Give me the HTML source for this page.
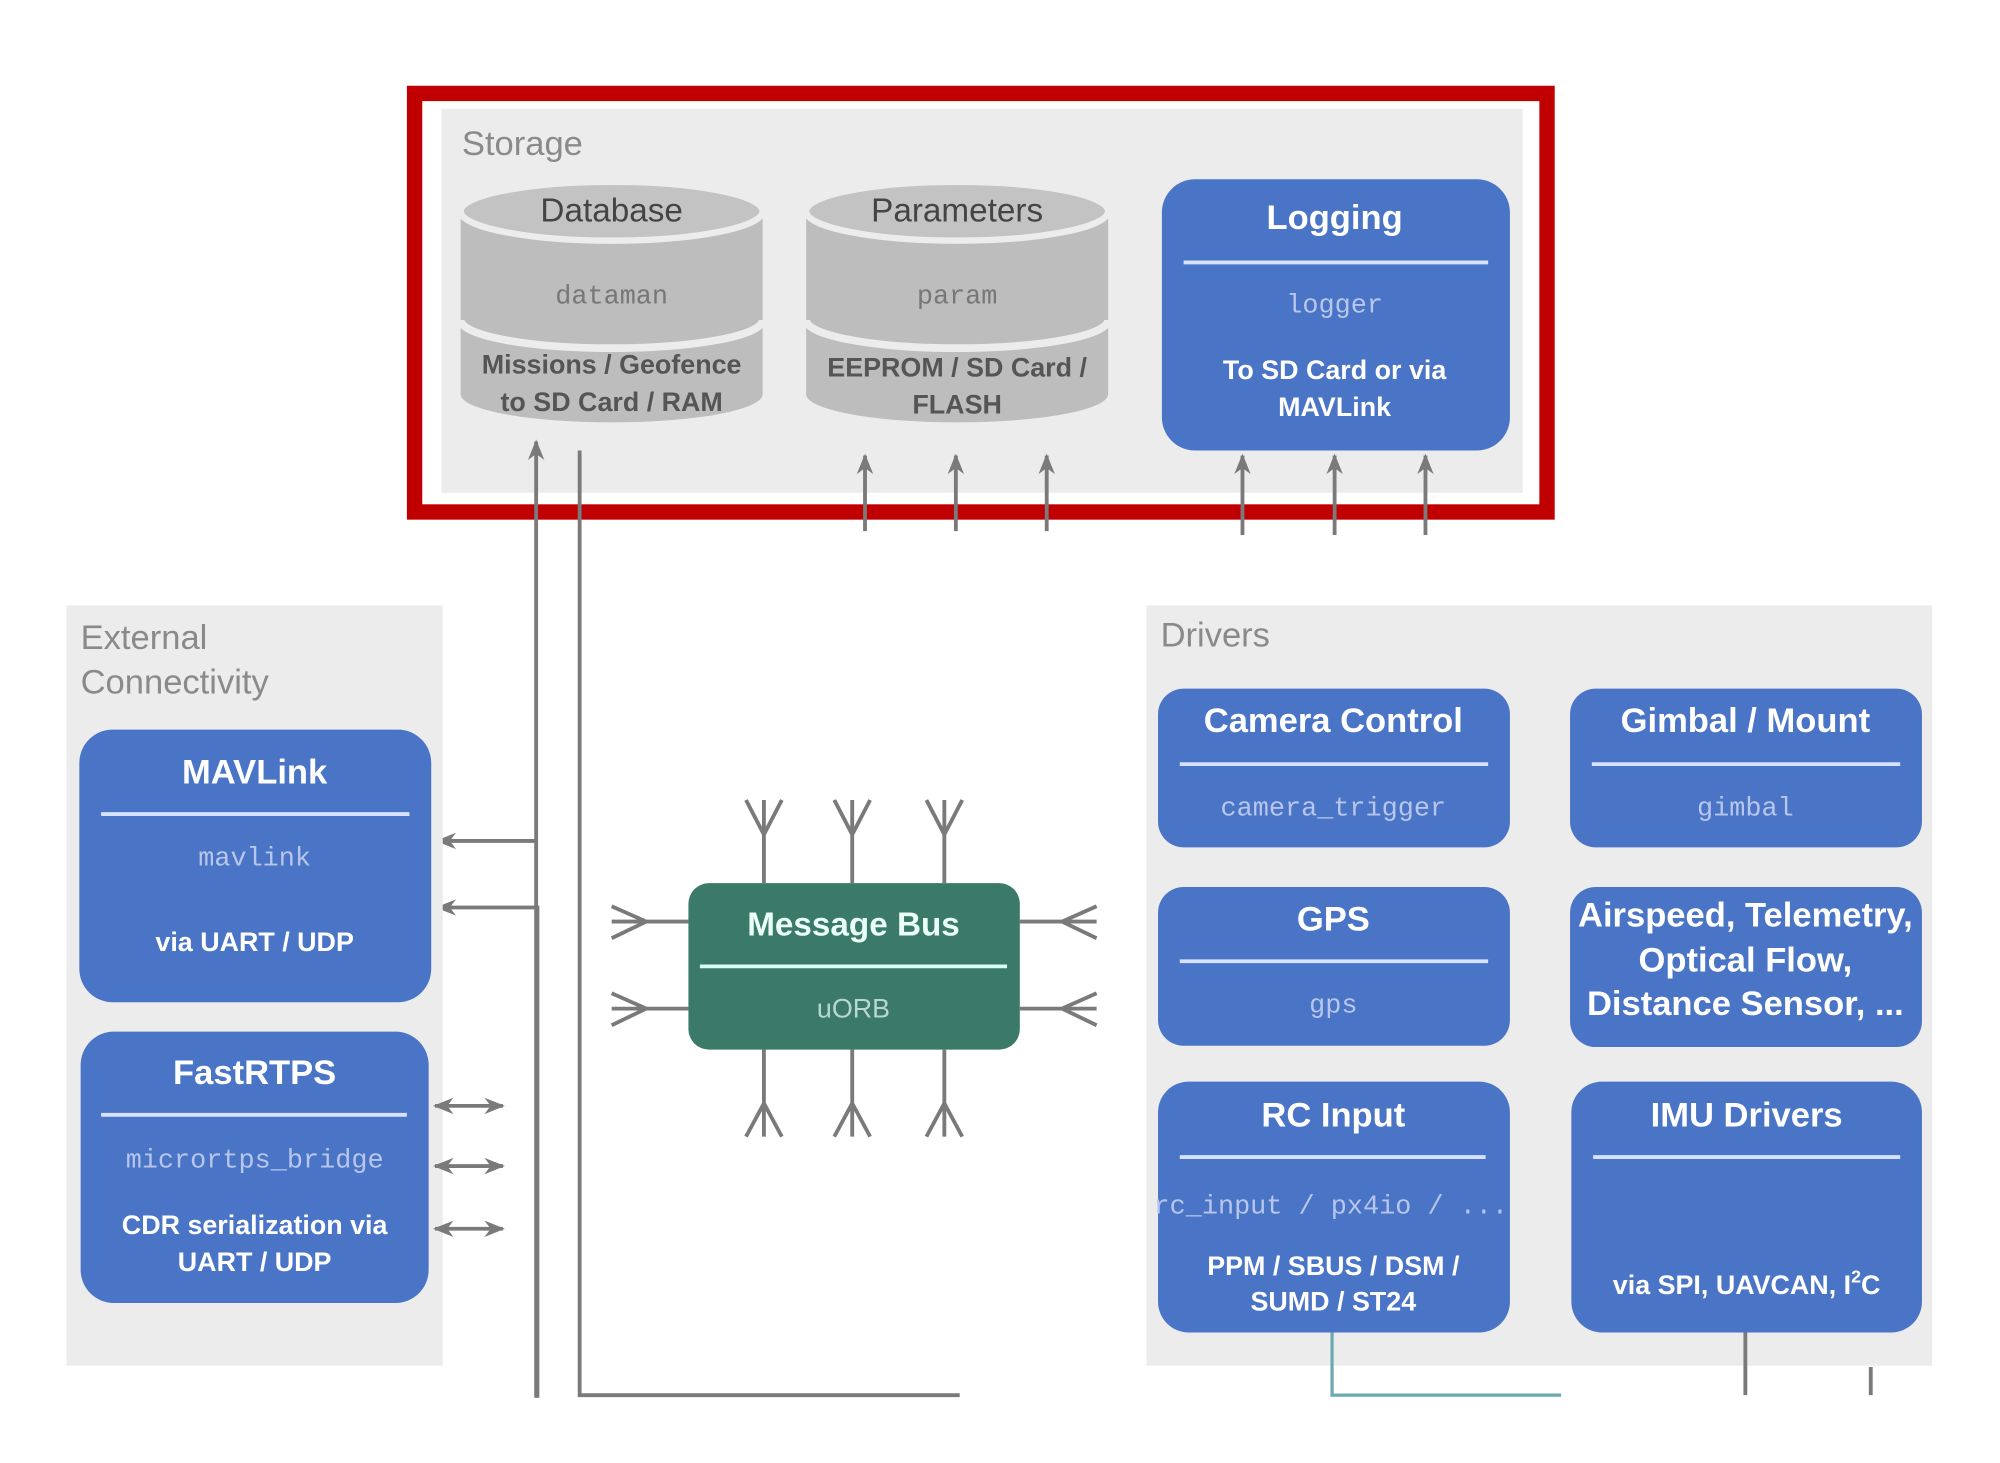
<!DOCTYPE html>
<html><head><meta charset="utf-8"><style>
html,body{margin:0;padding:0;background:#fff;}
svg{display:block;}
text{font-family:"Liberation Sans",sans-serif;}
.t{font-weight:bold;fill:#fff;font-size:27px;text-anchor:middle;}
.s{font-weight:bold;fill:#fff;font-size:21px;text-anchor:middle;}
.m{font-family:"Liberation Mono",monospace;fill:#b7c6ea;font-size:21px;text-anchor:middle;}
.g{font-weight:bold;fill:#555;font-size:21px;text-anchor:middle;}
.gm{font-family:"Liberation Mono",monospace;fill:#777;font-size:21px;text-anchor:middle;}
.lbl{fill:#8a8a8a;font-size:27px;}
.ln{stroke:#7a7a7a;stroke-width:3;fill:none;}
.b{fill:#4a74c6;}
.sep{stroke:#d6e2ff;stroke-width:3;}
</style></head><body>
<svg width="2000" height="1463" viewBox="0 0 1563 1143" preserveAspectRatio="none" xmlns="http://www.w3.org/2000/svg">
<defs>
<marker id="ah2" viewBox="0 0 10 10" refX="9" refY="5" markerWidth="16" markerHeight="16" orient="auto-start-reverse" markerUnits="userSpaceOnUse">
<path d="M0,1 L10,5 L0,9 L3,5 z" fill="#7a7a7a"/></marker>
</defs>

<rect x="345" y="85" width="845" height="300" fill="#ececec"/>
<rect x="324" y="73" width="885" height="327" fill="none" stroke="#c00000" stroke-width="12"/>
<text x="361" y="121" class="lbl">Storage</text>

<g>
<ellipse cx="478" cy="308" rx="118" ry="22" fill="#bdbdbd"/>
<rect x="360" y="168" width="236" height="140" fill="#bdbdbd"/>
<path d="M360,250 A118,22 0 0 0 596,250" stroke="#ececec" stroke-width="6" fill="none"/>
<ellipse cx="478" cy="165" rx="118" ry="23" fill="#c3c3c3" stroke="#ececec" stroke-width="5"/>
<text x="478" y="173" class="g" style="font-size:26px;font-weight:normal;fill:#444">Database</text>
<text x="478" y="237" class="gm">dataman</text>
<text x="478" y="292" class="g">Missions / Geofence</text>
<text x="478" y="321" class="g">to SD Card / RAM</text>
</g>
<g>
<ellipse cx="748" cy="308" rx="118" ry="22" fill="#bdbdbd"/>
<rect x="630" y="168" width="236" height="140" fill="#bdbdbd"/>
<path d="M630,250 A118,22 0 0 0 866,250" stroke="#ececec" stroke-width="6" fill="none"/>
<ellipse cx="748" cy="165" rx="118" ry="23" fill="#c3c3c3" stroke="#ececec" stroke-width="5"/>
<text x="748" y="173" class="g" style="font-size:26px;font-weight:normal;fill:#444">Parameters</text>
<text x="748" y="237" class="gm">param</text>
<text x="748" y="294" class="g">EEPROM / SD Card /</text>
<text x="748" y="323" class="g">FLASH</text>
</g>

<rect x="908" y="140" width="272" height="212" rx="26" class="b"/>
<text x="1043" y="179" class="t">Logging</text>
<line x1="925" y1="205" x2="1163" y2="205" class="sep"/>
<text x="1043" y="244" class="m">logger</text>
<text x="1043" y="296" class="s">To SD Card or via</text>
<text x="1043" y="325" class="s">MAVLink</text>

<g class="ln">
<line x1="676" y1="415" x2="676" y2="356" marker-end="url(#ah2)"/>
<line x1="747" y1="415" x2="747" y2="356" marker-end="url(#ah2)"/>
<line x1="818" y1="415" x2="818" y2="356" marker-end="url(#ah2)"/>
<line x1="971" y1="418" x2="971" y2="356" marker-end="url(#ah2)"/>
<line x1="1043" y1="418" x2="1043" y2="356" marker-end="url(#ah2)"/>
<line x1="1114" y1="418" x2="1114" y2="356" marker-end="url(#ah2)"/>
<polyline points="419,1092 419,345" marker-end="url(#ah2)"/>
<polyline points="419,657 342,657" marker-end="url(#ah2)"/>
<polyline points="420,1092 420,709 342,709" marker-end="url(#ah2)"/>
<polyline points="453,352 453,1090 750,1090"/>
</g>

<rect x="52" y="473" width="294" height="594" fill="#ececec"/>
<text x="63" y="507" class="lbl">External</text>
<text x="63" y="542" class="lbl">Connectivity</text>
<rect x="62" y="570" width="275" height="213" rx="26" class="b"/>
<text x="199" y="612" class="t">MAVLink</text>
<line x1="79" y1="636" x2="320" y2="636" class="sep"/>
<text x="199" y="676" class="m">mavlink</text>
<text x="199" y="743" class="s">via UART / UDP</text>
<rect x="63" y="806" width="272" height="212" rx="26" class="b"/>
<text x="199" y="847" class="t">FastRTPS</text>
<line x1="79" y1="871" x2="318" y2="871" class="sep"/>
<text x="199" y="912" class="m">micrortps_bridge</text>
<text x="199" y="964" class="s">CDR serialization via</text>
<text x="199" y="993" class="s">UART / UDP</text>
<g class="ln">
<line x1="340" y1="864" x2="393" y2="864" marker-start="url(#ah2)" marker-end="url(#ah2)"/>
<line x1="340" y1="911" x2="393" y2="911" marker-start="url(#ah2)" marker-end="url(#ah2)"/>
<line x1="340" y1="960" x2="393" y2="960" marker-start="url(#ah2)" marker-end="url(#ah2)"/>
</g>

<g class="ln">
<path d="M597,690 V625 M583,625 L597,652 L611,625"/>
<path d="M666,690 V625 M652,625 L666,652 L680,625"/>
<path d="M738,690 V625 M724,625 L738,652 L752,625"/>
<path d="M597,820 V888 M583,888 L597,862 L611,888"/>
<path d="M666,820 V888 M652,888 L666,862 L680,888"/>
<path d="M738,820 V888 M724,888 L738,862 L752,888"/>
<path d="M538,720 H478 M478,708 L505,720 L478,733"/>
<path d="M538,788 H478 M478,776 L505,788 L478,801"/>
<path d="M797,720 H857 M857,708 L830,720 L857,733"/>
<path d="M797,788 H857 M857,776 L830,788 L857,801"/>
</g>
<rect x="538" y="690" width="259" height="130" rx="16" fill="#3b7a68"/>
<text x="667" y="731" class="t" style="font-size:26px;fill:#eafff8">Message Bus</text>
<line x1="547" y1="755" x2="787" y2="755" stroke="#d8fff4" stroke-width="3"/>
<text x="667" y="795" class="m" style="fill:#b8d8cf;font-family:'Liberation Sans',sans-serif">uORB</text>

<rect x="896" y="473" width="614" height="594" fill="#ececec"/>
<text x="907" y="505" class="lbl">Drivers</text>

<rect x="905" y="538" width="275" height="124" rx="20" class="b"/>
<text x="1042" y="572" class="t">Camera Control</text>
<line x1="922" y1="597" x2="1163" y2="597" class="sep"/>
<text x="1042" y="637" class="m">camera_trigger</text>

<rect x="1227" y="538" width="275" height="124" rx="20" class="b"/>
<text x="1364" y="572" class="t">Gimbal / Mount</text>
<line x1="1244" y1="597" x2="1485" y2="597" class="sep"/>
<text x="1364" y="637" class="m">gimbal</text>

<rect x="905" y="693" width="275" height="124" rx="20" class="b"/>
<text x="1042" y="727" class="t">GPS</text>
<line x1="922" y1="751" x2="1163" y2="751" class="sep"/>
<text x="1042" y="791" class="m">gps</text>

<rect x="1227" y="693" width="275" height="125" rx="20" class="b"/>
<text x="1364" y="724" class="t">Airspeed, Telemetry,</text>
<text x="1364" y="759" class="t">Optical Flow,</text>
<text x="1364" y="793" class="t">Distance Sensor, ...</text>

<g stroke="#6aa9b0" stroke-width="2.5" fill="none"><polyline points="1041,1040 1041,1090 1220,1090"/></g>
<g class="ln"><line x1="1364" y1="1040" x2="1364" y2="1090"/><line x1="1462" y1="1068" x2="1462" y2="1090"/></g>

<rect x="905" y="845" width="275" height="196" rx="24" class="b"/>
<text x="1042" y="880" class="t">RC Input</text>
<line x1="922" y1="904" x2="1161" y2="904" class="sep"/>
<text x="1040" y="948" class="m">rc_input / px4io / ...</text>
<text x="1042" y="996" class="s">PPM / SBUS / DSM  /</text>
<text x="1042" y="1024" class="s">SUMD / ST24</text>

<rect x="1228" y="845" width="274" height="196" rx="24" class="b"/>
<text x="1365" y="880" class="t">IMU Drivers</text>
<line x1="1245" y1="904" x2="1485" y2="904" class="sep"/>
<text x="1365" y="1011" class="s">via SPI, UAVCAN, I<tspan dy="-9" font-size="14">2</tspan><tspan dy="9">C</tspan></text>
</svg>
</body></html>
